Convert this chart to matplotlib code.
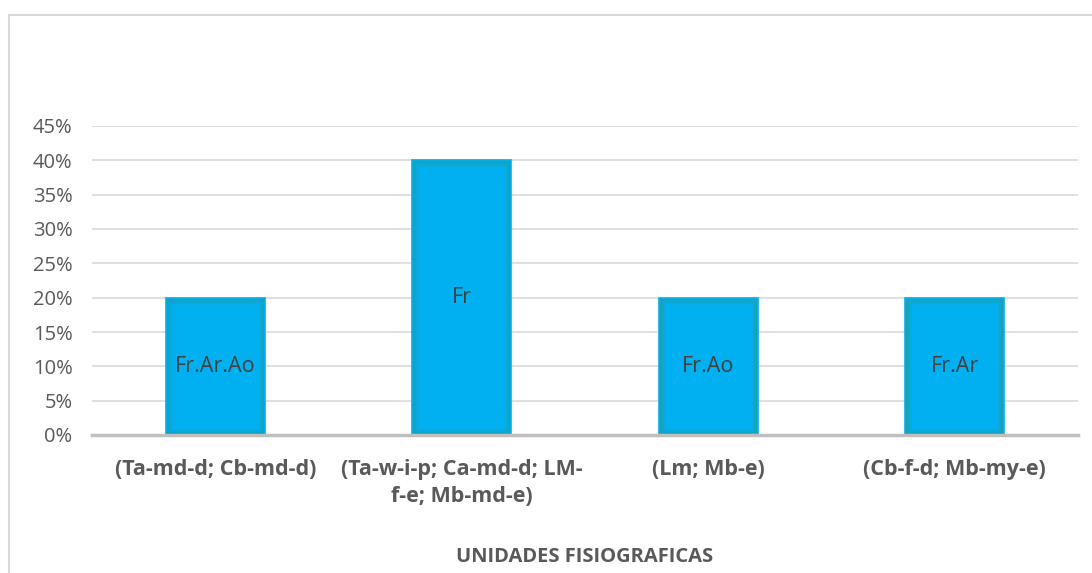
import matplotlib
matplotlib.use("Agg")
import matplotlib.pyplot as plt
from matplotlib.patches import Rectangle
from matplotlib.ticker import PercentFormatter, MultipleLocator

plt.rcParams['font.family'] = ['Open Sans', 'DejaVu Sans']

categories = ["(Ta-md-d; Cb-md-d)",
              "(Ta-w-i-p; Ca-md-d; LM-\nf-e; Mb-md-e)",
              "(Lm; Mb-e)",
              "(Cb-f-d; Mb-my-e)"]
values = [0.20, 0.40, 0.20, 0.20]
bar_labels = ["Fr.Ar.Ao", "Fr", "Fr.Ao", "Fr.Ar"]
x_title = "UNIDADES FISIOGRAFICAS"

W, H = 1092, 573
fig = plt.figure(figsize=(W / 100, H / 100), dpi=100)

# chart-area border (left and top edges visible)
fig.patches.append(Rectangle((8.5 / W, -0.05), 1.2, 1 - 14.5 / H + 0.05,
                             transform=fig.transFigure, fill=False,
                             edgecolor='#d9d9d9', linewidth=1.5))

ax = fig.add_axes([92 / W, (H - 435) / H, (1078 - 92) / W, (435 - 126) / H])

xs = list(range(len(categories)))
width = 0.40
base = '#00B0F0'
bars = ax.bar(xs, values, width=width, color=base, edgecolor='none', zorder=2)

# inner teal glow along the bar edges, clipped to each bar
for lw, alpha in [(9, 0.2), (6, 0.3), (3, 0.45)]:
    glow = ax.bar(xs, values, width=width, facecolor='none',
                  edgecolor='#2a9a9a', linewidth=lw, alpha=alpha, zorder=3)
    for g, b in zip(glow, bars):
        g.set_clip_path(b)
ax.bar(xs, values, width=width, facecolor='none', edgecolor=base,
       linewidth=1.2, zorder=4)

for x, v, lab in zip(xs, values, bar_labels):
    ax.text(x, v / 2, lab, ha='center', va='center', fontsize=15.5,
            color='#404040', zorder=5)

ax.set_xlim(-0.5, len(categories) - 0.5)
ax.set_ylim(0, 0.45)
ax.yaxis.set_major_locator(MultipleLocator(0.05))
ax.yaxis.set_major_formatter(PercentFormatter(1.0, decimals=0))
ax.grid(axis='y', color='#d9d9d9', linewidth=1.2, zorder=0)
ax.set_axisbelow(True)

for s in ['top', 'right', 'left']:
    ax.spines[s].set_visible(False)
ax.spines['bottom'].set_color('#bfbfbf')
ax.spines['bottom'].set_linewidth(2.5)
ax.spines['bottom'].set_zorder(6)

ax.set_xticks(xs)
ax.set_xticklabels(categories, fontsize=15.5, fontweight='bold',
                   color='#595959', linespacing=1.4)
ax.tick_params(axis='x', length=0, pad=17)
ax.tick_params(axis='y', length=0, pad=14, labelsize=14.5, labelcolor='#595959')

fig.text((92 + 1078) / 2 / W, 1 - 557 / H, x_title, ha='center', va='center',
         fontsize=14.5, fontweight='bold', color='#595959')

fig.savefig('out.png', dpi=100, facecolor='white')
